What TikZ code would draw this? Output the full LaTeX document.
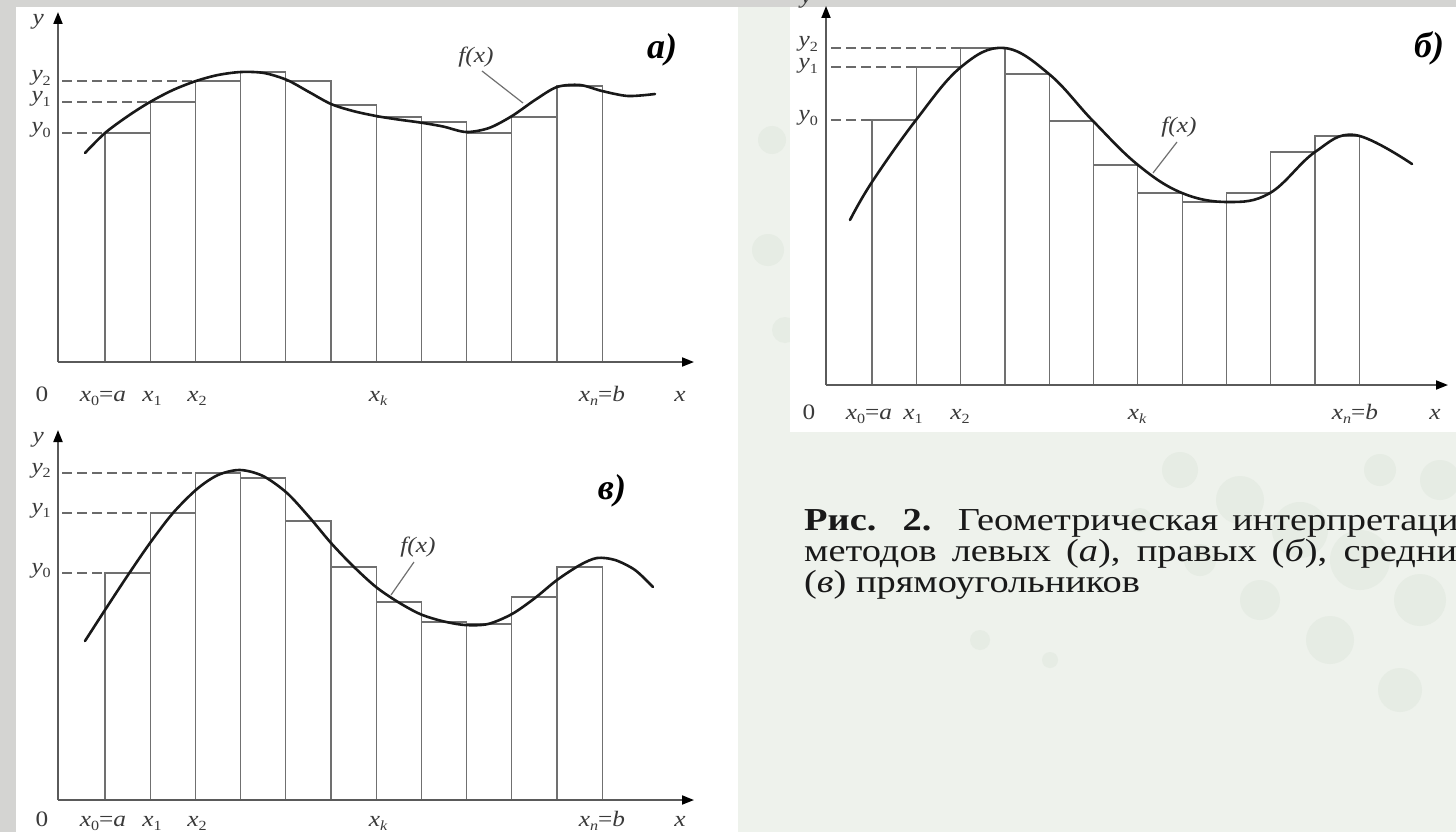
\documentclass[tikz,border=0pt]{standalone}
\usepackage{fontspec}
\setmainfont{Liberation Serif}[FakeStretch=1.2]
\newfontfamily\lblfont{Liberation Serif}[FakeStretch=1.15]
\newfontfamily\panelfont{Liberation Serif}
\usetikzlibrary{arrows.meta}
\definecolor{axisgray}{HTML}{5A5A5A}
\definecolor{rectgray}{HTML}{707070}
\definecolor{dashgray}{HTML}{6A6A6A}
\definecolor{txtgray}{HTML}{3A3A3A}
\definecolor{bgmint}{HTML}{EEF2EC}
\definecolor{bandgray}{HTML}{D4D4D2}
\definecolor{dotmint}{HTML}{E6ECE4}
\newcommand\sbs[1]{\raisebox{-0.4ex}{\fontsize{14}{14}\selectfont #1}}
\begin{document}
\begin{tikzpicture}[x=1pt,y=-1pt,
 axis/.style={draw=axisgray,line width=1.8pt,-{Triangle[length=12pt,width=9pt,color=black]}},
 rectbox/.style={draw=rectgray,line width=1.2pt},
 fcurve/.style={draw=black!90,line width=2.6pt,line cap=round},
 guide/.style={draw=dashgray,line width=1.3pt,dash pattern=on 10pt off 5pt},
 leader/.style={draw=rectgray,line width=1.2pt},
 lbl/.style={font=\lblfont\fontsize{22}{22}\selectfont\itshape,text=txtgray,inner sep=0pt},
 panellbl/.style={font=\panelfont\fontsize{36}{36}\selectfont\bfseries\itshape,inner sep=0pt},
 caption/.style={font=\fontsize{32}{32}\selectfont,text=black!90,inner sep=0pt,anchor=base west}
]
\useasboundingbox (0,0) rectangle (1456,832);
\clip (0,0) rectangle (1456,832);
% background
\fill[bgmint] (0,0) rectangle (1456,832);
\foreach \cx/\cy/\r in {772/140/14,768/250/16,785/330/13,1180/470/18,1240/500/24,1300/530/28,1360/560/30,1420/600/26,1330/640/24,1260/600/20,1400/690/22,1200/560/16,1140/520/12,1440/480/20,1380/470/16,980/640/10,1050/660/8}
  \fill[dotmint] (\cx,\cy) circle (\r);
\fill[white] (790,7) rectangle (1456,432);
\fill[white] (16,7) rectangle (738,832);
\fill[bandgray] (0,0) rectangle (16,832);
\fill[bandgray] (0,0) rectangle (1456,7);

% ================= panel a =================
\foreach \i/\t in {0/133,1/102,2/81,3/72,4/81,5/105,6/117,7/122,8/133,9/117,10/86}
  \draw[rectbox] ({105+\i*45.2},362) rectangle ({105+(\i+1)*45.2},\t);
\draw[guide] (62,133) -- (105,133);
\draw[guide] (62,102) -- (150.2,102);
\draw[guide] (62,81) -- (195.4,81);
\draw[axis] (58,362) -- (58,12);
\draw[axis] (58,362) -- (694,362);
\draw[fcurve] plot[smooth,tension=0.5] coordinates {(85,153) (105,133) (128,116) (150,102) (173,90) (196,81) (218,75) (241,72) (264,73) (287,80) (309,92) (331,104) (353,111) (376,116) (398,119.5) (420,122.5) (443,126.5) (466,132) (489,128) (512,116) (535,100) (557,87) (580,85) (602,91) (628,96) (655,94)};
\node[lbl] (fa) at (476,57) {f(x)};
\draw[leader] (482,71) -- (523,103);
\node[panellbl] (pa) at (662,50) {а)};
\node[lbl,anchor=base east] (ay) at (44,25) {y};
\node[lbl,anchor=base east] (ay2) at (51,81) {y\sbs{\upshape 2}};
\node[lbl,anchor=base east] (ay1) at (51,102) {y\sbs{\upshape 1}};
\node[lbl,anchor=base east] (ay0) at (51,133) {y\sbs{\upshape 0}};
\node[lbl,anchor=base] (ao) at (42,401) {\upshape 0};
\node[lbl,anchor=base] (ax0) at (103,401) {x\sbs{\upshape 0}{\upshape =}a};
\node[lbl,anchor=base] (ax1) at (152,401) {x\sbs{\upshape 1}};
\node[lbl,anchor=base] (ax2) at (197,401) {x\sbs{\upshape 2}};
\node[lbl,anchor=base] (axk) at (378,401) {x\sbs{k}};
\node[lbl,anchor=base] (axn) at (602,401) {x\sbs{n}{\upshape =}b};
\node[lbl,anchor=base] (ax) at (680,401) {x};

% ================= panel b =================
\foreach \i/\t in {0/120,1/67,2/48,3/74,4/121,5/165,6/193,7/202,8/193,9/152,10/136}
  \draw[rectbox] ({872+\i*44.3},385) rectangle ({872+(\i+1)*44.3},\t);
\draw[guide] (831,120) -- (872,120);
\draw[guide] (831,67) -- (916.3,67);
\draw[guide] (831,48) -- (960.6,48);
\draw[axis] (826,385) -- (826,6);
\draw[axis] (826,385) -- (1448,385);
\draw[fcurve] plot[smooth,tension=0.65] coordinates {(850,220) (872,182) (916,120) (961,67) (1004,48) (1049,74) (1093,121) (1138,165) (1182,193) (1228,202) (1270,193) (1315,152) (1355,135) (1412,164)};
\node[lbl] (fb) at (1179,127) {f(x)};
\draw[leader] (1177,142) -- (1153,173);
\node[panellbl] (pb) at (1429,48) {б)};
\node[lbl,anchor=base east] (by) at (812,4) {y};
\node[lbl,anchor=base east] (by2) at (818,47) {y\sbs{\upshape 2}};
\node[lbl,anchor=base east] (by1) at (818,69) {y\sbs{\upshape 1}};
\node[lbl,anchor=base east] (by0) at (818,121) {y\sbs{\upshape 0}};
\node[lbl,anchor=base] (bo) at (809,419) {\upshape 0};
\node[lbl,anchor=base] (bx0) at (869,419) {x\sbs{\upshape 0}{\upshape =}a};
\node[lbl,anchor=base] (bx1) at (913,419) {x\sbs{\upshape 1}};
\node[lbl,anchor=base] (bx2) at (960,419) {x\sbs{\upshape 2}};
\node[lbl,anchor=base] (bxk) at (1137,419) {x\sbs{k}};
\node[lbl,anchor=base] (bxn) at (1355,419) {x\sbs{n}{\upshape =}b};
\node[lbl,anchor=base] (bx) at (1435,419) {x};

% ================= panel c =================
\foreach \i/\t in {0/573,1/513,2/473,3/478,4/521,5/567,6/602,7/622,8/624,9/597,10/567}
  \draw[rectbox] ({105+\i*45.2},800) rectangle ({105+(\i+1)*45.2},\t);
\draw[guide] (62,573) -- (105,573);
\draw[guide] (62,513) -- (150.2,513);
\draw[guide] (62,473) -- (195.4,473);
\draw[axis] (58,800) -- (58,430);
\draw[axis] (58,800) -- (694,800);
\draw[fcurve] plot[smooth,tension=0.5] coordinates {(85,641) (105,610) (128,575) (150,543) (173,513) (197,489) (218,475) (240,470) (263,476) (287,493) (310,518) (331,543) (353,566) (376,587) (398,602) (420,614) (442,621) (465,625) (488,624) (512,614) (535,598) (557,580) (580,565) (597,558) (615,560) (635,570) (653,587)};
\node[lbl] (fc) at (418,547) {f(x)};
\draw[leader] (414,562) -- (391,595);
\node[panellbl] (pc) at (612,491) {в)};
\node[lbl,anchor=base east] (cy) at (44,442) {y};
\node[lbl,anchor=base east] (cy2) at (51,473) {y\sbs{\upshape 2}};
\node[lbl,anchor=base east] (cy1) at (51,513) {y\sbs{\upshape 1}};
\node[lbl,anchor=base east] (cy0) at (51,573) {y\sbs{\upshape 0}};
\node[lbl,anchor=base] (co) at (42,826) {\upshape 0};
\node[lbl,anchor=base] (cx0) at (103,826) {x\sbs{\upshape 0}{\upshape =}a};
\node[lbl,anchor=base] (cx1) at (152,826) {x\sbs{\upshape 1}};
\node[lbl,anchor=base] (cx2) at (197,826) {x\sbs{\upshape 2}};
\node[lbl,anchor=base] (cxk) at (378,826) {x\sbs{k}};
\node[lbl,anchor=base] (cxn) at (602,826) {x\sbs{n}{\upshape =}b};
\node[lbl,anchor=base] (cx) at (680,826) {x};

% ================= caption =================
\node[caption] (cap1) at (804,530) {\makebox[672pt][s]{\textbf{Рис. 2.} Геометрическая интерпретация}};
\node[caption] (cap2) at (804,561) {\makebox[672pt][s]{методов левых (\textit{а}), правых (\textit{б}), средних}};
\node[caption] (cap3) at (804,592) {(\textit{в}) прямоугольников};
\end{tikzpicture}
\end{document}
